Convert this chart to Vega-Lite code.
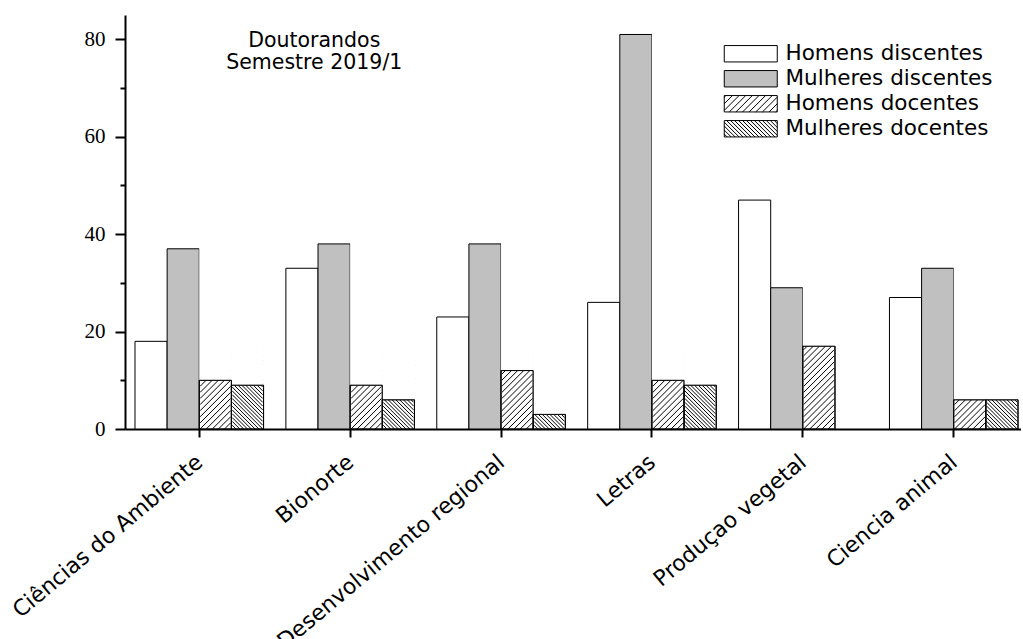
{
  "$schema": "https://vega.github.io/schema/vega-lite/v6.json",
  "width": 896,
  "height": 414,
  "padding": {"left": 8, "top": 15, "right": 0, "bottom": 0},
  "background": "white",
  "config": {"view": {"stroke": null}, "font": "DejaVu Sans"},
  "data": {
    "values": [
      {"programa": "Ciências do Ambiente", "grupo": "Homens discentes", "valor": 18},
      {"programa": "Ciências do Ambiente", "grupo": "Mulheres discentes", "valor": 37},
      {"programa": "Ciências do Ambiente", "grupo": "Homens docentes", "valor": 10},
      {"programa": "Ciências do Ambiente", "grupo": "Mulheres docentes", "valor": 9},
      {"programa": "Bionorte", "grupo": "Homens discentes", "valor": 33},
      {"programa": "Bionorte", "grupo": "Mulheres discentes", "valor": 38},
      {"programa": "Bionorte", "grupo": "Homens docentes", "valor": 9},
      {"programa": "Bionorte", "grupo": "Mulheres docentes", "valor": 6},
      {"programa": "Desenvolvimento regional", "grupo": "Homens discentes", "valor": 23},
      {"programa": "Desenvolvimento regional", "grupo": "Mulheres discentes", "valor": 38},
      {"programa": "Desenvolvimento regional", "grupo": "Homens docentes", "valor": 12},
      {"programa": "Desenvolvimento regional", "grupo": "Mulheres docentes", "valor": 3},
      {"programa": "Letras", "grupo": "Homens discentes", "valor": 26},
      {"programa": "Letras", "grupo": "Mulheres discentes", "valor": 81},
      {"programa": "Letras", "grupo": "Homens docentes", "valor": 10},
      {"programa": "Letras", "grupo": "Mulheres docentes", "valor": 9},
      {"programa": "Produçao vegetal", "grupo": "Homens discentes", "valor": 47},
      {"programa": "Produçao vegetal", "grupo": "Mulheres discentes", "valor": 29},
      {"programa": "Produçao vegetal", "grupo": "Homens docentes", "valor": 17},
      {"programa": "Ciencia animal", "grupo": "Homens discentes", "valor": 27},
      {"programa": "Ciencia animal", "grupo": "Mulheres discentes", "valor": 33},
      {"programa": "Ciencia animal", "grupo": "Homens docentes", "valor": 6},
      {"programa": "Ciencia animal", "grupo": "Mulheres docentes", "valor": 6}
    ]
  },
  "layer": [
    {
      "mark": {"type": "bar", "stroke": "black", "strokeWidth": 1},
      "encoding": {
        "x": {
          "field": "programa", "type": "nominal", "title": null,
          "scale": {"domain": ["Ciências do Ambiente", "Bionorte", "Desenvolvimento regional", "Letras", "Produçao vegetal", "Ciencia animal"], "paddingInner": 0.148, "paddingOuter": 0.043, "align": 0.77},
          "axis": {"labelAngle": -40, "labelAlign": "right", "labelBaseline": "top", "labelFont": "DejaVu Sans", "labelFontSize": 22, "labelColor": "black", "labelOffset": -6, "labelPadding": 14, "labelLimit": 400, "tickSize": 8, "tickWidth": 2, "tickColor": "black", "domainWidth": 2, "domainColor": "black", "grid": false}
        },
        "xOffset": {"field": "grupo", "type": "nominal", "scale": {"domain": ["Homens discentes", "Mulheres discentes", "Homens docentes", "Mulheres docentes"], "paddingInner": 0, "paddingOuter": 0}},
        "y": {
          "field": "valor", "type": "quantitative", "title": null,
          "scale": {"domain": [0, 85], "nice": false},
          "axis": {"values": [0, 10, 20, 30, 40, 50, 60, 70, 80], "labelExpr": "datum.value % 20 === 0 ? datum.label : ''", "tickSize": {"condition": {"test": "datum.value % 20 === 0", "value": 10}, "value": 5}, "tickWidth": 2, "tickColor": "black", "domainWidth": 2, "domainColor": "black", "labelFont": "Liberation Serif", "labelFontSize": 21, "labelColor": "black", "labelPadding": 10, "grid": false}
        },
        "fill": {
          "field": "grupo", "type": "nominal",
          "scale": {"domain": ["Homens discentes", "Mulheres discentes", "Homens docentes", "Mulheres docentes"], "range": ["white", "#c0c0c0", "white", "white"]},
          "legend": {
            "title": null, "orient": "top-right", "offset": 28, "padding": 0,
            "labelFont": "DejaVu Sans", "labelFontSize": 21.5, "labelColor": "black", "labelOffset": 24, "labelLimit": 400,
            "symbolSize": 400, "symbolStrokeColor": "black", "symbolStrokeWidth": 1, "rowPadding": 2,
            "encode": {"symbols": {"update": {
              "shape": {"signal": "datum.value === 'Homens docentes' ? 'M-2.65,-0.82H2.65V0.82H-2.65ZM-2.65,-0.66L-2.49,-0.82M-2.65,0L-1.83,-0.82M-2.65,0.66L-1.17,-0.82M-2.15,0.82L-0.5,-0.82M-1.48,0.82L0.16,-0.82M-0.82,0.82L0.82,-0.82M-0.16,0.82L1.48,-0.82M0.5,0.82L2.15,-0.82M1.17,0.82L2.65,-0.66M1.83,0.82L2.65,0M2.49,0.82L2.65,0.66' : datum.value === 'Mulheres docentes' ? 'M-2.65,-0.82H2.65V0.82H-2.65ZM-2.65,0.53L-2.36,0.82M-2.65,0.13L-1.96,0.82M-2.65,-0.27L-1.56,0.82M-2.65,-0.66L-1.17,0.82M-2.41,-0.82L-0.77,0.82M-2.01,-0.82L-0.37,0.82M-1.62,-0.82L0.03,0.82M-1.22,-0.82L0.42,0.82M-0.82,-0.82L0.82,0.82M-0.42,-0.82L1.22,0.82M-0.03,-0.82L1.62,0.82M0.37,-0.82L2.01,0.82M0.77,-0.82L2.41,0.82M1.17,-0.82L2.65,0.66M1.56,-0.82L2.65,0.27M1.96,-0.82L2.65,-0.13M2.36,-0.82L2.65,-0.53' : 'M-2.65,-0.82H2.65V0.82H-2.65Z'"},
              "stroke": {"value": "black"},
              "strokeWidth": {"value": 1},
              "opacity": {"value": 1}
            }}}
          }
        }
      }
    },
    {
      "transform": [{"filter": {"field": "grupo", "oneOf": ["Homens docentes", "Mulheres docentes"]}}],
      "mark": {"type": "point", "filled": false, "stroke": "black", "strokeWidth": 1, "opacity": 1, "size": 930},
      "encoding": {
        "x": {"field": "programa", "type": "nominal"},
        "xOffset": {"field": "grupo", "type": "nominal"},
        "y": {"datum": 0, "type": "quantitative"},
        "shape": {
          "field": "grupo", "type": "nominal", "legend": null,
          "scale": {"domain": ["Homens docentes", "Mulheres docentes"], "range": [
            "M0.6,0L1,-0.4M0.2,0L1,-0.8M-0.2,0L1,-1.2M-0.6,0L1,-1.6M-1,0L1,-2M-1,-0.4L1,-2.4M-1,-0.8L1,-2.8M-1,-1.2L1,-3.2M-1,-1.6L1,-3.6M-1,-2L1,-4M-1,-2.4L1,-4.4M-1,-2.8L1,-4.8M-1,-3.2L1,-5.2M-1,-3.6L1,-5.6M-1,-4L0.6,-5.6M-1,-4.4L0.2,-5.6M-1,-4.8L-0.2,-5.6M-1,-5.2L-0.6,-5.6",
            "M-1,-0.25L-0.75,0M-1,-0.5L-0.5,0M-1,-0.75L-0.25,0M-1,-1L0,0M-1,-1.25L0.25,0M-1,-1.5L0.5,0M-1,-1.75L0.75,0M-1,-2L1,0M-1,-2.25L1,-0.25M-1,-2.5L1,-0.5M-1,-2.75L1,-0.75M-1,-3L1,-1M-1,-3.25L1,-1.25M-1,-3.5L1,-1.5M-1,-3.75L1,-1.75M-1,-4L1,-2M-1,-4.25L1,-2.25M-1,-4.5L1,-2.5M-1,-4.75L1,-2.75M-1,-5L1,-3M-1,-5.25L1,-3.25M-1,-5.5L1,-3.5M-0.85,-5.6L1,-3.75M-0.6,-5.6L1,-4M-0.35,-5.6L1,-4.25M-0.1,-5.6L1,-4.5M0.15,-5.6L1,-4.75M0.4,-5.6L1,-5M0.65,-5.6L1,-5.25M0.9,-5.6L1,-5.5"
          ]}
        }
      }
    },
    {
      "transform": [{"filter": {"field": "grupo", "oneOf": ["Homens docentes", "Mulheres docentes"]}}],
      "mark": {"type": "bar", "fill": "white", "strokeWidth": 0},
      "encoding": {
        "x": {"field": "programa", "type": "nominal"},
        "xOffset": {"field": "grupo", "type": "nominal"},
        "y": {"field": "valor", "type": "quantitative"},
        "y2": {"datum": 85}
      }
    },
    {
      "transform": [{"filter": {"field": "grupo", "oneOf": ["Homens docentes", "Mulheres docentes"]}}],
      "mark": {"type": "bar", "fill": "transparent", "stroke": "black", "strokeWidth": 1},
      "encoding": {
        "x": {"field": "programa", "type": "nominal"},
        "xOffset": {"field": "grupo", "type": "nominal"},
        "y": {"field": "valor", "type": "quantitative"}
      }
    },
    {
      "data": {"values": [{"id": 1}]},
      "mark": {"type": "text", "text": ["Doutorandos", "Semestre 2019/1"], "font": "DejaVu Sans", "fontSize": 20.5, "align": "center", "baseline": "alphabetic", "lineHeight": 22, "dx": 115, "dy": 8, "color": "black"},
      "encoding": {
        "x": {"datum": "Ciências do Ambiente"},
        "y": {"datum": 80}
      }
    }
  ]
}
